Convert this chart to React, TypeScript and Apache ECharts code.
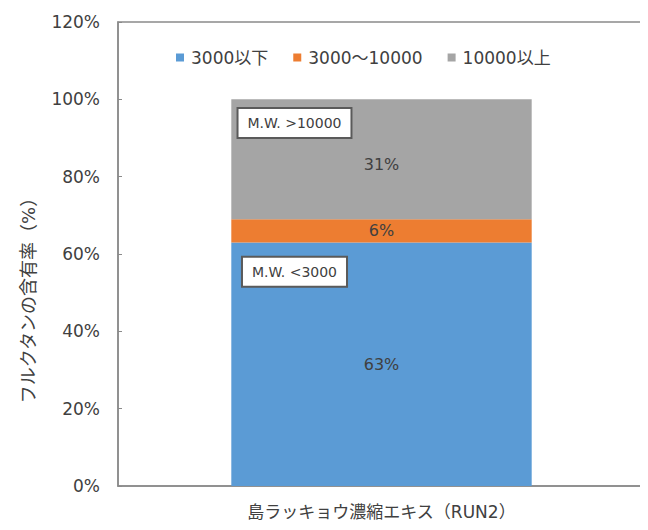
import React, { useEffect, useRef } from "react";
import * as echarts from "echarts";

const categories = ["島ラッキョウ濃縮エキス（RUN2）"];
const seriesNames = ["3000以下", "3000〜10000", "10000以上"];
const lowValues = [63];
const midValues = [6];
const highValues = [31];
const colors = ["#5B9BD5", "#ED7D31", "#A5A5A5"];
const yTitle = "フルクタンの含有率（%）";
const annotationLow = "M.W. <3000";
const annotationHigh = "M.W. >10000";

const FONT = "'DejaVu Sans', 'Noto Sans CJK JP', sans-serif";

export default function App() {
  const ref = useRef<HTMLDivElement>(null);

  useEffect(() => {
    if (!ref.current) return;
    const chart = echarts.init(ref.current, undefined, { renderer: "svg" });

    const boxLabel = {
      show: true,
      position: "inside",
      color: "#404040",
      fontSize: 14,
      fontFamily: FONT,
      backgroundColor: "#fff",
      borderColor: "#5a5a5a",
      borderWidth: 2,
      padding: [7, 9],
    };

    const valueLabel = {
      show: true,
      position: "inside",
      formatter: (p: any) => `${p.value}%`,
      color: "#404040",
      fontSize: 16,
      fontFamily: FONT,
    };

    chart.setOption({
      animation: false,
      textStyle: { fontFamily: FONT },
      legend: {
        top: 47,
        left: 174,
        padding: 2,
        itemWidth: 8,
        itemHeight: 8,
        itemGap: 25,
        icon: "rect",
        textStyle: { fontSize: 17, color: "#404040", fontFamily: FONT, padding: [0, 0, 0, 2] },
        data: seriesNames,
      },
      grid: {
        left: 118,
        right: 3,
        top: 22,
        bottom: 44,
        show: true,
        borderColor: "#8a8a8a",
        borderWidth: 1.5,
        backgroundColor: "transparent",
      },
      xAxis: {
        type: "category",
        data: categories,
        axisLine: { lineStyle: { color: "#8a8a8a", width: 1.5 } },
        axisTick: { show: false },
        axisLabel: { color: "#404040", fontSize: 17, margin: 17, fontFamily: FONT },
      },
      yAxis: {
        type: "value",
        min: 0,
        max: 120,
        interval: 20,
        axisLine: { show: true, lineStyle: { color: "#8a8a8a", width: 1.5 } },
        axisTick: { show: true, inside: true, length: 4, lineStyle: { color: "#8a8a8a" } },
        splitLine: { show: false },
        axisLabel: {
          formatter: "{value}%",
          color: "#404040",
          fontSize: 17,
          margin: 18,
          fontFamily: FONT,
        },
      },
      series: [
        {
          name: seriesNames[0],
          type: "bar",
          stack: "total",
          barWidth: "57%",
          data: lowValues,
          itemStyle: { color: colors[0] },
          label: valueLabel,
          markPoint: {
            symbol: "rect",
            symbolSize: 0,
            data: [{ coord: [0, 55.4], label: { ...boxLabel, formatter: annotationLow, offset: [-87, 0] } }],
          },
        },
        {
          name: seriesNames[1],
          type: "bar",
          stack: "total",
          data: midValues,
          itemStyle: { color: colors[1] },
          label: valueLabel,
        },
        {
          name: seriesNames[2],
          type: "bar",
          stack: "total",
          data: highValues,
          itemStyle: { color: colors[2] },
          label: { ...valueLabel, offset: [0, 5] },
          markPoint: {
            symbol: "rect",
            symbolSize: 0,
            data: [{ coord: [0, 93.9], label: { ...boxLabel, formatter: annotationHigh, offset: [-87, 0] } }],
          },
        },
      ],
      graphic: [
        {
          type: "text",
          x: 28,
          y: 296,
          rotation: Math.PI / 2,
          style: {
            text: yTitle,
            fontSize: 18,
            fontFamily: FONT,
            fill: "#404040",
            align: "center",
            verticalAlign: "middle",
          },
        },
      ],
    });

    return () => chart.dispose();
  }, []);

  return <div ref={ref} style={{ width: 648, height: 530, margin: -8 }} />;
}
